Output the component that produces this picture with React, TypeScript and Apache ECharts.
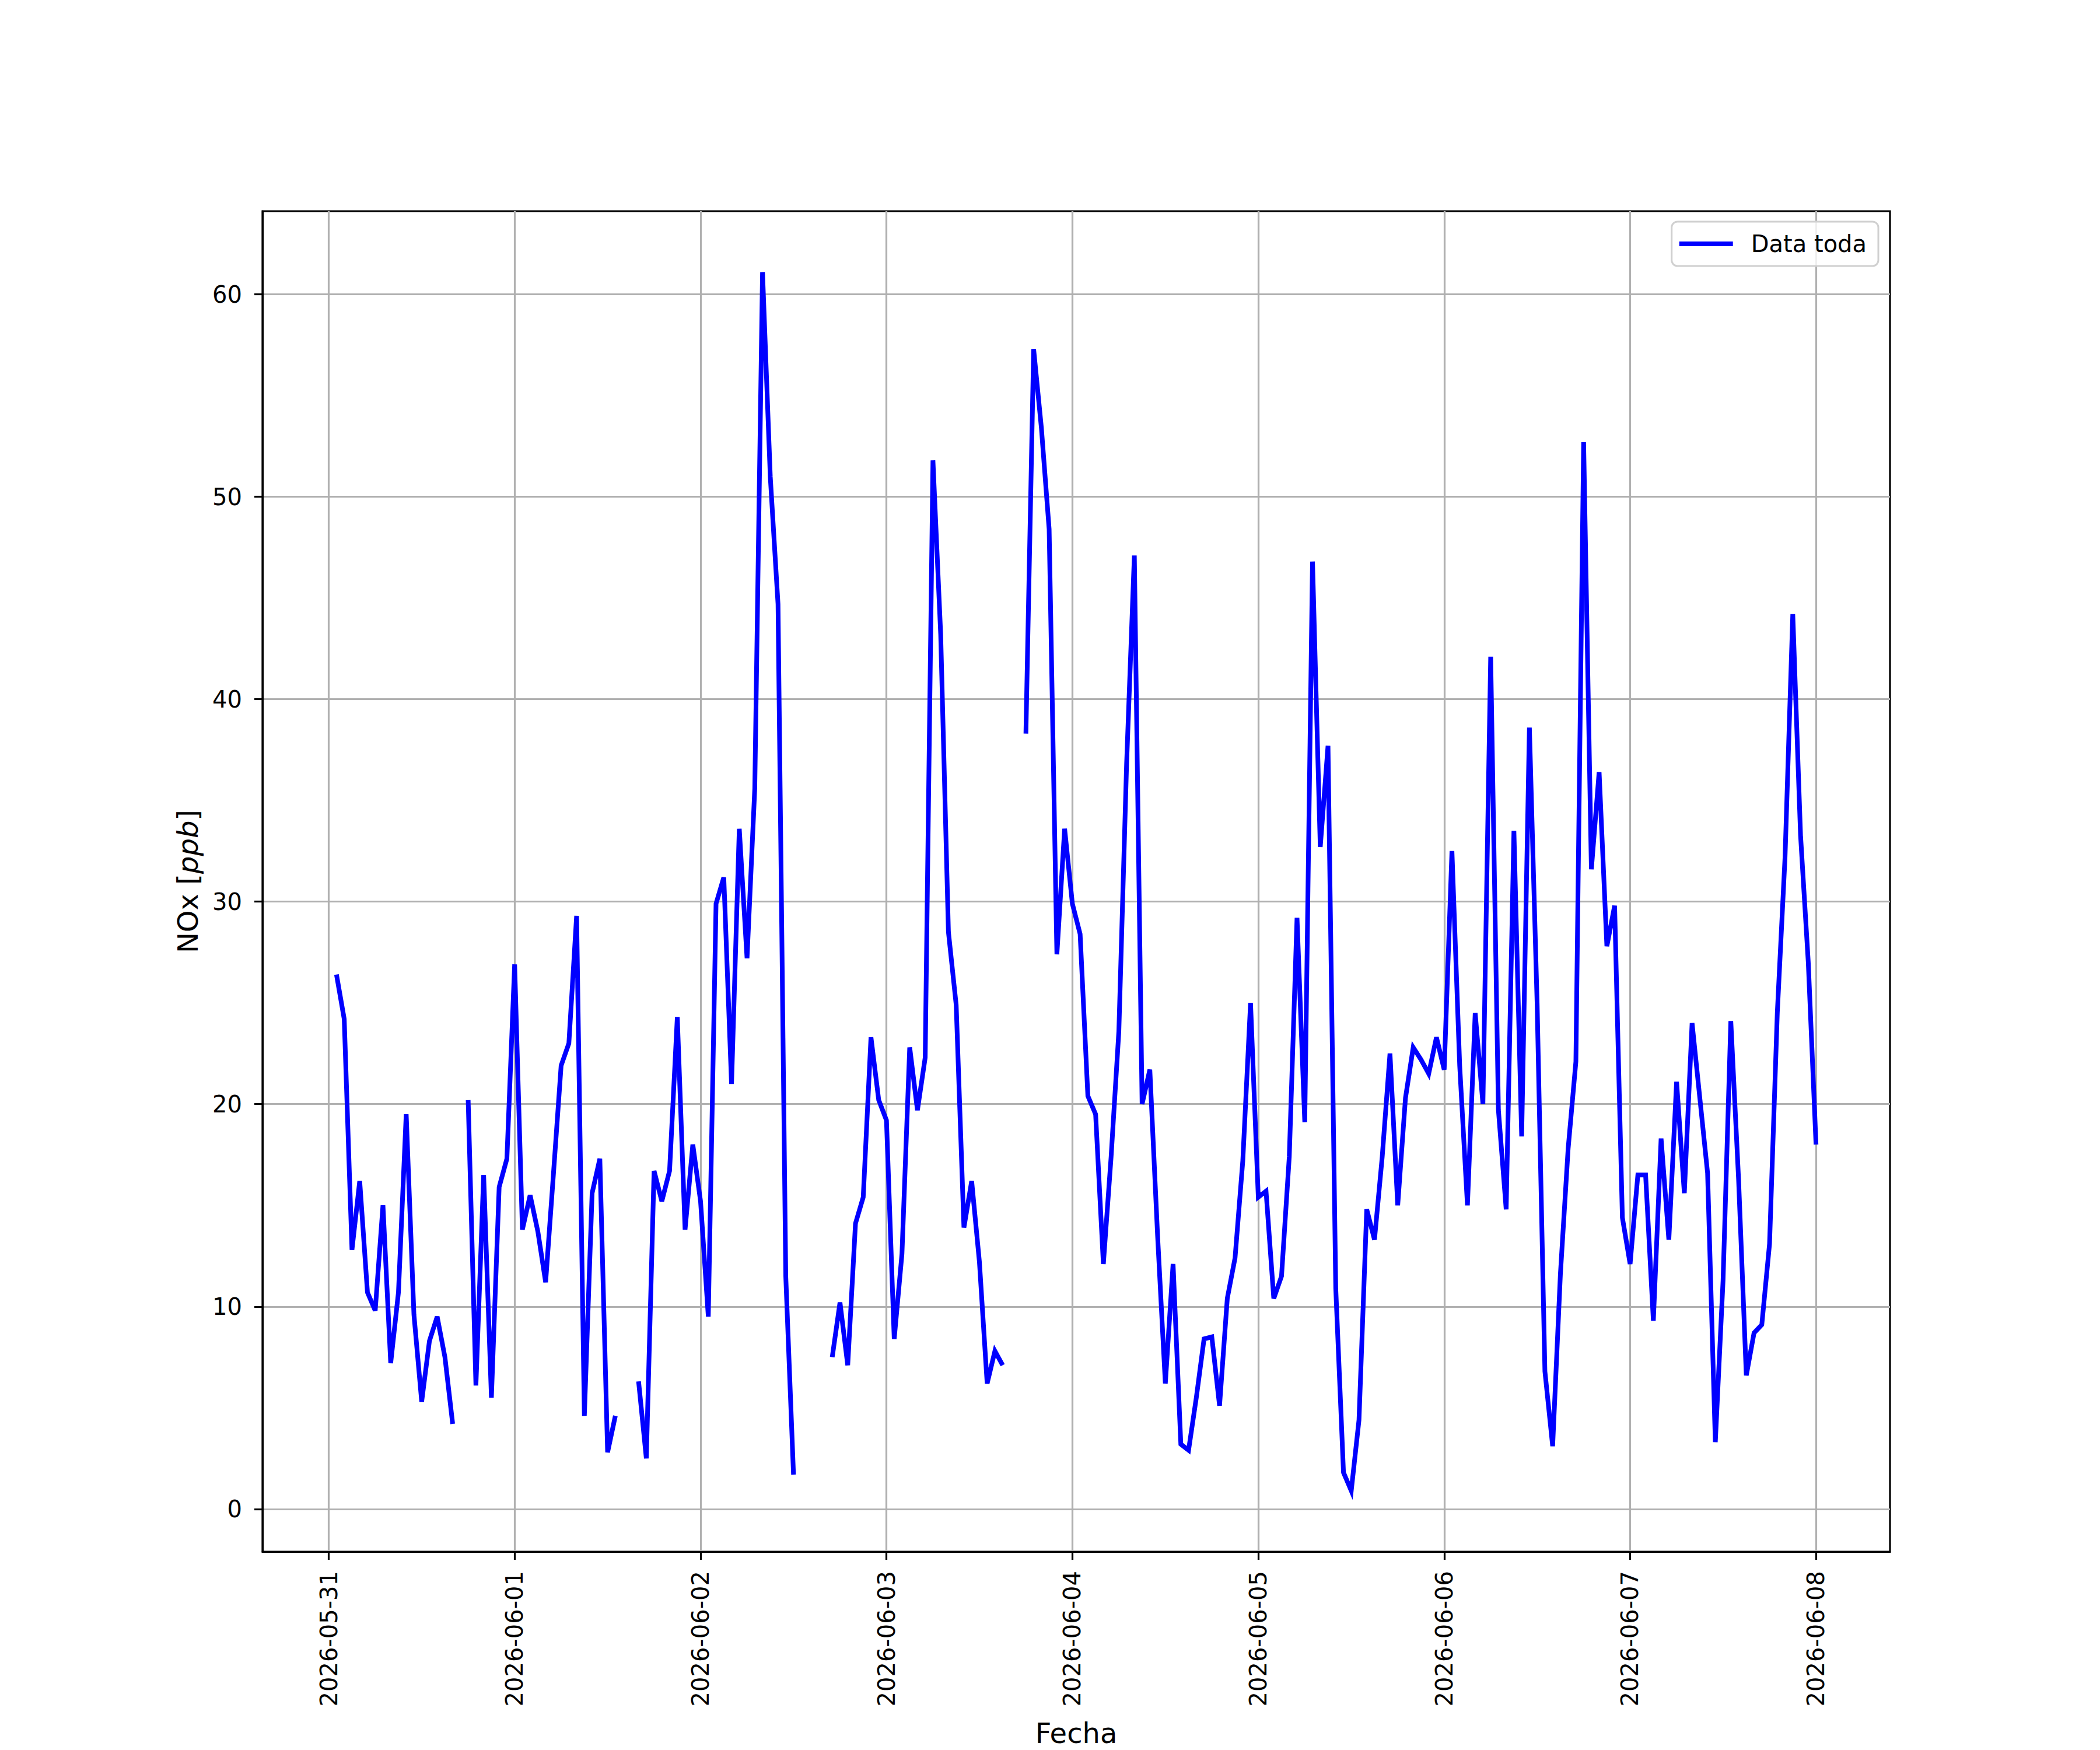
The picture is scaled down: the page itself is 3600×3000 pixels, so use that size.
import React, { useEffect, useRef } from "react";
import * as echarts from "echarts";

// Hourly NOx readings [ppb], first reading 2026-05-31 01:00, one per hour, null = no data
const NOX_0531 = [26.4, 24.2, 12.8, 16.2, 10.7, 9.8, 15.0, 7.2, 10.7, 19.5, 9.6, 5.3, 8.3, 9.5, 7.5, 4.2, null, 20.2, 6.1, 16.5, 5.5, 15.9, 17.3];
const NOX_0601 = [26.9, 13.8, 15.5, 13.7, 11.2, 16.5, 21.9, 23.0, 29.3, 4.6, 15.6, 17.3, 2.8, 4.6, null, null, 6.3, 2.5, 16.7, 15.2, 16.7, 24.3, 13.8, 18.0];
const NOX_0602 = [15.2, 9.5, 29.9, 31.2, 21.0, 33.6, 27.2, 35.6, 61.1, 51.0, 44.7, 11.5, 1.7, null, null, null, null, 7.5, 10.2, 7.1, 14.1, 15.4, 23.3, 20.2];
const NOX_0603 = [19.2, 8.4, 12.6, 22.8, 19.7, 22.3, 51.8, 43.2, 28.5, 24.9, 13.9, 16.2, 12.2, 6.2, 7.8, 7.1, null, null, 38.3, 57.3, 53.4, 48.4, 27.4, 33.6];
const NOX_0604 = [29.9, 28.4, 20.4, 19.5, 12.1, 17.4, 23.6, 36.8, 47.1, 20.0, 21.7, 13.5, 6.2, 12.1, 3.2, 2.9, 5.5, 8.4, 8.5, 5.1, 10.4, 12.4, 17.2, 25.0];
const NOX_0605 = [15.4, 15.7, 10.4, 11.5, 17.4, 29.2, 19.1, 46.8, 32.7, 37.7, 10.9, 1.8, 0.9, 4.4, 14.8, 13.3, 17.4, 22.5, 15.0, 20.3, 22.8, 22.2, 21.5, 23.3];
const NOX_0606 = [21.7, 32.5, 21.9, 15.0, 24.5, 20.0, 42.1, 19.7, 14.8, 33.5, 18.4, 38.6, 24.9, 6.8, 3.1, 11.6, 17.8, 22.1, 52.7, 31.6, 36.4, 27.8, 29.8, 14.4];
const NOX_0607 = [12.1, 16.5, 16.5, 9.3, 18.3, 13.3, 21.1, 15.6, 24.0, 20.3, 16.6, 3.3, 11.3, 24.1, 16.3, 6.6, 8.7, 9.1, 13.1, 24.5, 32.2, 44.2, 33.3, 27.0];
const NOX_0608 = [18.0];

const NOX: (number | null)[] = [
  ...NOX_0531, ...NOX_0601, ...NOX_0602, ...NOX_0603, ...NOX_0604,
  ...NOX_0605, ...NOX_0606, ...NOX_0607, ...NOX_0608,
];

// hours since 2026-05-31 00:00
const FIRST_HOUR = 1;
const DAY_LABELS = [
  "2026-05-31", "2026-06-01", "2026-06-02", "2026-06-03", "2026-06-04",
  "2026-06-05", "2026-06-06", "2026-06-07", "2026-06-08",
];
const Y_TICKS = [0, 10, 20, 30, 40, 50, 60];
const SERIES_NAME = "Data toda";
const X_TITLE = "Fecha";

const FONT = "DejaVu Sans";

export default function App() {
  const ref = useRef<HTMLDivElement>(null);

  useEffect(() => {
    if (!ref.current) return;
    const chart = echarts.init(ref.current, undefined, { renderer: "svg" });

    const hours = NOX.map((_, i) => FIRST_HOUR + i);
    const vals = NOX.filter((v) => v != null) as number[];
    const yMin = Math.min(...vals);
    const yMax = Math.max(...vals);
    const yPad = 0.05 * (yMax - yMin);
    const xPad = 0.05 * (hours[hours.length - 1] - hours[0]);
    const dayTicks = DAY_LABELS.map((_, i) => i * 24);

    const tickStyle = { color: "#000", width: 3.2 };
    const gridStyle = { color: "#b0b0b0", width: 3.2 };

    chart.setOption({
      animation: false,
      backgroundColor: "#ffffff",
      textStyle: { fontFamily: FONT, color: "#000" },
      grid: {
        left: 450,
        right: 360,
        top: 362,
        bottom: 313,
        show: true,
        borderColor: "#000",
        borderWidth: 3.2,
        backgroundColor: "transparent",
      },
      legend: {
        right: 380,
        top: 380,
        icon: "rect",
        itemWidth: 92,
        itemHeight: 8,
        padding: [18, 20, 18, 13],
        borderColor: "#d0d0d0",
        borderWidth: 3,
        borderRadius: 10,
        backgroundColor: "rgba(255,255,255,0.8)",
        textStyle: { fontFamily: FONT, fontSize: 40, color: "#000", padding: [0, 0, 0, 26] },
        data: [{ name: SERIES_NAME, itemStyle: { color: "#0000ff" } }],
      },
      xAxis: {
        type: "value",
        min: hours[0] - xPad,
        max: hours[hours.length - 1] + xPad,
        minInterval: 24,
        maxInterval: 24,
        axisLine: { show: true, onZero: false, lineStyle: tickStyle },
        axisTick: { show: true, length: 14, lineStyle: tickStyle, customValues: dayTicks },
        axisLabel: {
          customValues: dayTicks,
          rotate: 90,
          margin: 33,
          fontSize: 40,
          fontFamily: FONT,
          color: "#000",
          formatter: (v: number) => DAY_LABELS[Math.round(v / 24)] ?? "",
        },
        splitLine: { show: true, lineStyle: gridStyle },
        name: X_TITLE,
        nameLocation: "middle",
        nameGap: 287,
        nameTextStyle: { fontSize: 48, fontFamily: FONT, color: "#000" },
      },
      yAxis: {
        type: "value",
        min: yMin - yPad,
        max: yMax + yPad,
        minInterval: 10,
        maxInterval: 10,
        axisLine: { show: true, onZero: false, lineStyle: tickStyle },
        axisTick: { show: true, length: 14, lineStyle: tickStyle, customValues: Y_TICKS },
        axisLabel: {
          customValues: Y_TICKS,
          margin: 35,
          fontSize: 40,
          fontFamily: FONT,
          color: "#000",
        },
        splitLine: { show: true, lineStyle: gridStyle },
        name: "{n|NOx [}{i|ppb}{n|]}",
        nameLocation: "middle",
        nameRotate: 90,
        nameGap: 104,
        nameTextStyle: {
          fontSize: 48,
          fontFamily: FONT,
          color: "#000",
          rich: {
            n: { fontSize: 48, fontFamily: FONT, color: "#000" },
            i: { fontSize: 48, fontFamily: FONT, fontStyle: "italic", color: "#000" },
          },
        },
      },
      series: [
        {
          type: "line",
          name: SERIES_NAME,
          data: hours.map((h, i) => [h, NOX[i]]),
          showSymbol: false,
          symbol: "none",
          connectNulls: false,
          color: "#0000ff",
          lineStyle: { color: "#0000ff", width: 8, join: "miter", cap: "butt" },
          itemStyle: { color: "#0000ff" },
          emphasis: { disabled: true },
        },
      ],
    });

    return () => chart.dispose();
  }, []);

  return (
    <div
      ref={ref}
      style={{ position: "absolute", left: 0, top: 0, width: 3600, height: 3000 }}
    />
  );
}
